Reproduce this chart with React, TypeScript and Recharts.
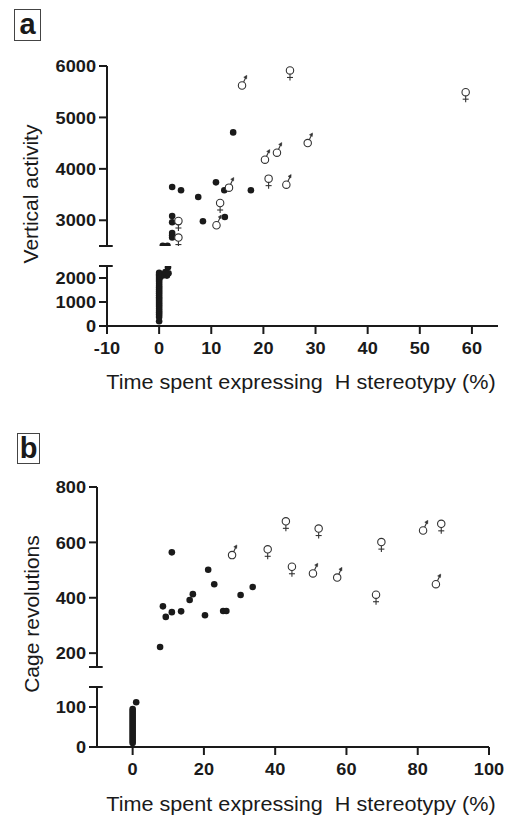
import React from 'react';
import { ScatterChart, Scatter, XAxis, YAxis, ReferenceLine } from 'recharts';

type Pt = [number, number];

// Panel a: time spent expressing H stereotypy (%) vs vertical activity
const aDots: Pt[] = [
  [2.5, 3647], [4.2, 3583], [7.5, 3452], [10.9, 3738], [14.2, 4709], [12.5, 3583], [17.6, 3583],
  [8.4, 2980], [12.6, 3064], [2.5, 3083], [2.5, 2961], [3.7, 2961], [2.5, 2754], [2.5, 2709],
  [2.5, 2664], [0.7, 2505], [1.6, 2505],
  [0, 200], [0, 380], [0, 480], [0, 560], [0, 640], [0, 720], [0, 800], [0, 880], [0, 960],
  [0, 1040], [0, 1120], [0, 1200], [0, 1280], [0, 1360], [0, 1440], [0, 1520], [0, 1600],
  [0, 1680], [0, 1760], [0, 1840], [0, 1920], [0, 2000], [0, 2080], [0, 2150], [0, 2220],
  [0.3, 2050], [0.5, 2150], [1.0, 2120], [1.5, 2100], [1.2, 2250], [1.8, 2200], [1.7, 2450],
];
const aFemale: Pt[] = [[25.1, 5913], [58.8, 5491], [21, 3810], [11.7, 3336], [3.7, 2986], [3.7, 2664]];
const aMale: Pt[] = [[15.9, 5621], [20.3, 4178], [22.6, 4314], [28.5, 4501], [24.4, 3693], [13.4, 3635], [11, 2903]];

// Panel b: time spent expressing H stereotypy (%) vs cage revolutions
const bDots: Pt[] = [
  [11.0, 564], [21.2, 501], [22.9, 449], [16.9, 413], [16.0, 392], [30.3, 410], [33.7, 439],
  [8.5, 369], [9.3, 331], [11.0, 348], [13.6, 351], [20.3, 337], [25.4, 352], [26.3, 352], [7.7, 222],
  [0, 10], [0, 15], [0, 20], [0, 25], [0, 30], [0, 35], [0, 40], [0, 45], [0, 50], [0, 55],
  [0, 60], [0, 65], [0, 70], [0, 75], [0, 80], [0, 85], [0, 90], [0, 95], [1.0, 112],
];
const bFemale: Pt[] = [[43, 676], [52.2, 650], [37.9, 575], [69.8, 601], [86.6, 667], [44.7, 512], [68.3, 411]];
const bMale: Pt[] = [[27.9, 554], [81.5, 643], [50.6, 488], [57.4, 473], [85.1, 449]];

const aXTicks = [-10, 0, 10, 20, 30, 40, 50, 60];
const aUpperTicks = [2500, 3000, 4000, 5000, 6000];
const aLowerTicks = [0, 1000, 2000, 2500];
const bXTicks = [0, 20, 40, 60, 80, 100];
const bUpperTicks = [150, 200, 400, 600, 800];
const bLowerTicks = [0, 100, 150];

const FONT = '"Liberation Sans", Arial, Helvetica, sans-serif';
const INK = '#1a1a1a';

const Dot = (p: any) => <circle cx={p.cx} cy={p.cy} r={3.3} fill={INK} />;

const Female = (p: any) => {
  const { cx, cy } = p;
  return (
    <g stroke="#333" strokeWidth={1.1} fill="#fff">
      <circle cx={cx} cy={cy} r={3.7} />
      <line x1={cx} y1={cy + 3.7} x2={cx} y2={cy + 10} />
      <line x1={cx - 3} y1={cy + 7} x2={cx + 3} y2={cy + 7} />
    </g>
  );
};

const Male = (p: any) => {
  const { cx, cy } = p;
  const tx = cx + 4.8, ty = cy - 10.2;
  return (
    <g stroke="#333" strokeWidth={1.1} fill="#fff">
      <circle cx={cx} cy={cy} r={3.7} />
      <line x1={cx + 1.6} y1={cy - 3.4} x2={tx - 0.5} y2={ty + 1} />
      <polygon points={`${tx},${ty} ${tx - 3.1},${ty + 1.9} ${tx - 0.2},${ty + 3.6}`} fill="#333" strokeWidth={0.5} />
    </g>
  );
};

const Tick = (p: any) => {
  const { x, y, payload, textAnchor, hidden, axis } = p;
  if (hidden && hidden.includes(payload.value)) return null;
  return (
    <g transform={`translate(${x},${y}) scale(1.07,1)`}>
      <text x={0} y={0} dy={axis === 'x' ? '0.71em' : '0.36em'} textAnchor={textAnchor}
        fontFamily={FONT} fontWeight="bold" fontSize={17} fill={INK}>
        {payload.value}
      </text>
    </g>
  );
};

type SegProps = {
  top: number; bottom: number; left: number; right: number;
  xDomain: [number, number]; xTicks: number[];
  yDomain: [number, number]; yTicks: number[]; hidden: number[];
  caps: number[]; capLen: number; showX: boolean;
  dots: Pt[]; female: Pt[]; male: Pt[];
};

const Segment = (s: SegProps) => {
  const pick = (arr: Pt[]) => arr.filter(d => d[1] >= s.yDomain[0] && d[1] <= s.yDomain[1]).map(([x, y]) => ({ x, y }));
  const xh = 40;
  const h = s.showX ? s.bottom + xh + 4 : s.bottom + 10;
  const axisStyle = { stroke: INK, strokeWidth: 2 };
  return (
    <div style={{ position: 'absolute', left: 0, top: 0 }}>
      <ScatterChart width={511} height={h}
        margin={{ top: s.top, left: s.left - 70, right: 511 - s.right, bottom: s.showX ? 4 : 10 }}>
        <XAxis type="number" dataKey="x" domain={s.xDomain} ticks={s.xTicks} hide={!s.showX} height={xh}
          allowDataOverflow axisLine={axisStyle} tickLine={axisStyle} tickSize={8} tickMargin={8}
          tick={(p: any) => <Tick {...p} axis="x" />} interval={0} />
        <YAxis type="number" dataKey="y" domain={s.yDomain} ticks={s.yTicks} width={70}
          allowDataOverflow axisLine={axisStyle} tickLine={axisStyle} tickSize={8} tickMargin={3}
          tick={(p: any) => <Tick {...p} axis="y" hidden={s.hidden} />} interval={0} />
        {s.caps.map(c => (
          <ReferenceLine key={c} segment={[{ x: s.xDomain[0], y: c }, { x: s.xDomain[0] + s.capLen, y: c }]}
            stroke={INK} strokeWidth={2} ifOverflow="visible" />
        ))}
        <Scatter data={pick(s.dots)} shape={Dot} isAnimationActive={false} />
        <Scatter data={pick(s.female)} shape={Female} isAnimationActive={false} />
        <Scatter data={pick(s.male)} shape={Male} isAnimationActive={false} />
      </ScatterChart>
    </div>
  );
};

const Letter = ({ ch, left, top, w, h }: { ch: string; left: number; top: number; w: number; h: number }) => (
  <div style={{
    position: 'absolute', left, top, width: w, height: h, boxSizing: 'border-box',
    border: '1px solid #444', fontFamily: FONT, fontWeight: 'bold', fontSize: 29,
    lineHeight: `${h - 3}px`, textAlign: 'center', color: INK,
  }}>{ch}</div>
);

const XTitle = ({ top }: { top: number }) => (
  <div style={{
    position: 'absolute', left: 301, top, transform: 'translate(-50%, 0) scaleX(1.08)',
    whiteSpace: 'pre', fontFamily: FONT, fontSize: 20, lineHeight: '20px', color: INK,
  }}>{'Time spent expressing  H stereotypy (%)'}</div>
);

const YTitle = ({ text, x, y }: { text: string; x: number; y: number }) => (
  <div style={{
    position: 'absolute', left: x, top: y, transform: 'translate(-50%, -50%) rotate(-90deg)',
    whiteSpace: 'nowrap', fontFamily: FONT, fontSize: 21, lineHeight: '21px', color: INK,
  }}>{text}</div>
);

export default function App() {
  return (
    <div style={{ position: 'absolute', left: 0, top: 0, width: 511, height: 818, background: '#fff', overflow: 'hidden' }}>
      <Letter ch="a" left={14} top={9} w={27} h={32} />
      <YTitle text="Vertical activity" x={30} y={194} />
      <Segment top={66} bottom={246} left={107} right={498} xDomain={[-10, 65]} xTicks={aXTicks}
        yDomain={[2500, 6000]} yTicks={aUpperTicks} hidden={[2500]} caps={[2500]} capLen={1.1}
        showX={false} dots={aDots} female={aFemale} male={aMale} />
      <Segment top={266} bottom={326} left={107} right={498} xDomain={[-10, 65]} xTicks={aXTicks}
        yDomain={[0, 2500]} yTicks={aLowerTicks} hidden={[2500]} caps={[2500]} capLen={1.1}
        showX={true} dots={aDots} female={aFemale} male={aMale} />
      <XTitle top={372} />

      <Letter ch="b" left={17} top={433} w={23} h={31} />
      <YTitle text="Cage revolutions" x={31} y={614} />
      <Segment top={487} bottom={667} left={97} right={489} xDomain={[-10, 100]} xTicks={bXTicks}
        yDomain={[150, 800]} yTicks={bUpperTicks} hidden={[150]} caps={[150]} capLen={1.6}
        showX={false} dots={bDots} female={bFemale} male={bMale} />
      <Segment top={687} bottom={747} left={97} right={489} xDomain={[-10, 100]} xTicks={bXTicks}
        yDomain={[0, 150]} yTicks={bLowerTicks} hidden={[150]} caps={[150]} capLen={1.6}
        showX={true} dots={bDots} female={bFemale} male={bMale} />
      <XTitle top={794} />
    </div>
  );
}
